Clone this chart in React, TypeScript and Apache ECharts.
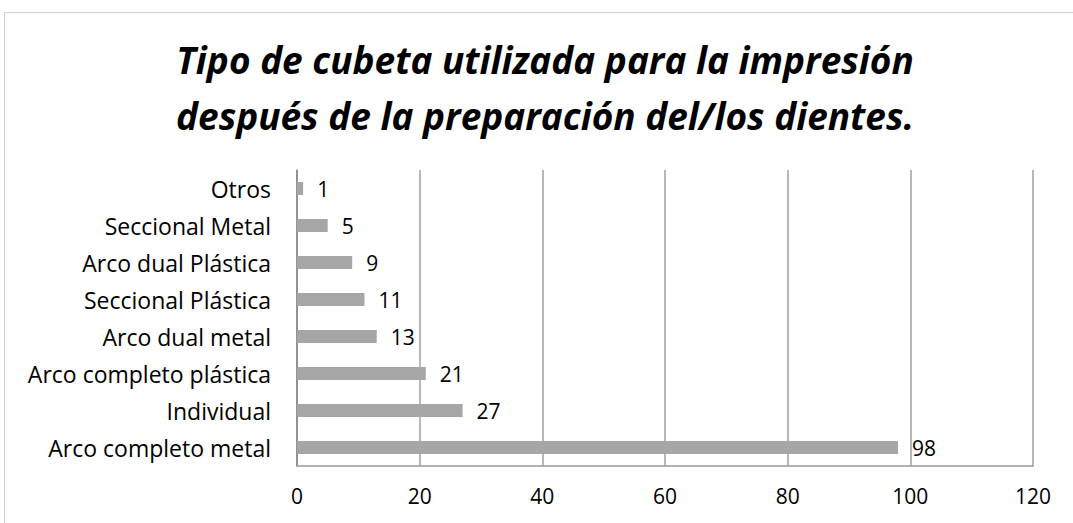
import React, { useEffect, useRef } from "react";
import * as echarts from "echarts";

const categories = [
  "Arco completo metal",
  "Individual",
  "Arco completo plástica",
  "Arco dual metal",
  "Seccional Plástica",
  "Arco dual Plástica",
  "Seccional Metal",
  "Otros",
];
const values = [98, 27, 21, 13, 11, 9, 5, 1];
const titleLines = [
  "Tipo de cubeta utilizada para la impresión",
  "después de la preparación del/los dientes.",
];

export default function App() {
  const ref = useRef<HTMLDivElement>(null);
  useEffect(() => {
    document.body.style.margin = "0";
    const chart = echarts.init(ref.current!, null, { renderer: "svg" });
    const font = "'Open Sans', 'Noto Sans', sans-serif";
    chart.setOption({
      animation: false,
      backgroundColor: "#ffffff",
      title: {
        text: titleLines.join("\n"),
        left: 540,
        textAlign: "center",
        top: 26,
        textStyle: {
          fontFamily: font,
          fontStyle: "italic",
          fontWeight: "bold",
          fontSize: 37,
          lineHeight: 56,
          color: "#000000",
        },
      },
      graphic: [
        {
          type: "rect",
          shape: { x: 4.5, y: 12.5, width: 1100, height: 600 },
          style: { fill: "none", stroke: "#d0d0d0", lineWidth: 1 },
          silent: true,
        },
      ],
      grid: { left: 297, right: 40, top: 170, bottom: 57, containLabel: false },
      xAxis: {
        type: "value",
        min: 0,
        max: 120,
        interval: 20,
        axisLine: { show: true, lineStyle: { color: "#9a9a9a", width: 1.5 } },
        axisTick: { show: false },
        splitLine: { show: true, lineStyle: { color: "#a0a0a0", width: 1.5 } },
        axisLabel: {
          fontFamily: font,
          fontSize: 21,
          color: "#000000",
          margin: 19,
        },
      },
      yAxis: {
        type: "category",
        data: categories,
        axisLine: { show: true, lineStyle: { color: "#868686", width: 1.5 } },
        axisTick: { show: false },
        axisLabel: {
          fontFamily: font,
          fontSize: 23,
          color: "#000000",
          margin: 26,
        },
      },
      series: [
        {
          type: "bar",
          data: values,
          barWidth: 13,
          itemStyle: { color: "#a6a6a6" },
          label: {
            show: true,
            position: "right",
            distance: 14,
            fontFamily: font,
            fontSize: 21,
            color: "#000000",
          },
        },
      ],
    });
    return () => chart.dispose();
  }, []);
  return <div ref={ref} style={{ width: 1073, height: 523 }} />;
}
